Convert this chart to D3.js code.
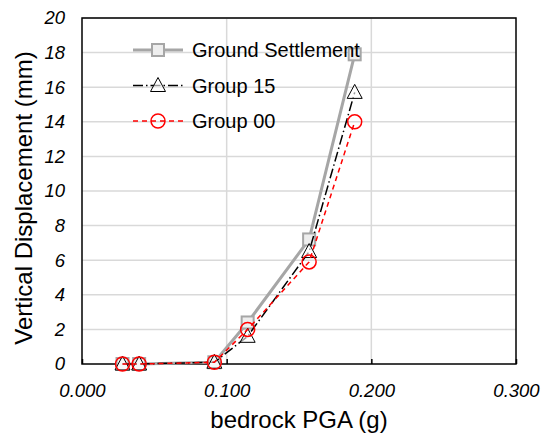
<!DOCTYPE html>
<html>
<head>
<meta charset="utf-8">
<script src="https://cdn.jsdelivr.net/npm/d3@7"></script>
<style>
  body { margin: 0; background: #fff; }
  svg { display: block; font-family: "Liberation Sans", Arial, sans-serif; }
</style>
</head>
<body>
<div id="chart"></div>
<script>
const pga = [0.028, 0.0395, 0.0915, 0.1145, 0.157, 0.1885];
const groundSettlement = [0, 0, 0.1, 2.4, 7.2, 17.9];
const group15 = [0, 0, 0.1, 1.6, 6.5, 15.7];
const group00 = [0, 0, 0.1, 2.0, 5.9, 14.0];
const xTicks = [0, 0.1, 0.2, 0.3];
const yTicks = [0, 2, 4, 6, 8, 10, 12, 14, 16, 18, 20];

const W = 541, H = 436;
const margin = { top: 18, right: 25, bottom: 72, left: 82 };
const width = W - margin.left - margin.right;
const height = H - margin.top - margin.bottom;

const svg = d3.select("#chart").append("svg")
  .attr("width", W)
  .attr("height", H);

const g = svg.append("g")
  .attr("transform", `translate(${margin.left},${margin.top})`);

const x = d3.scaleLinear().domain([0, 0.3]).range([0, width]);
const y = d3.scaleLinear().domain([0, 20]).range([height, 0]);

// grid
g.selectAll("line.hgrid")
  .data(yTicks.slice(1))
  .enter().append("line")
  .attr("x1", 0).attr("x2", width)
  .attr("y1", d => y(d)).attr("y2", d => y(d))
  .attr("stroke", "#d9d9d9").attr("stroke-width", 1.5);

g.selectAll("line.vgrid")
  .data(xTicks.slice(1, -1))
  .enter().append("line")
  .attr("x1", d => x(d)).attr("x2", d => x(d))
  .attr("y1", 0).attr("y2", height)
  .attr("stroke", "#d9d9d9").attr("stroke-width", 1.5);

// axes
const xAxis = g.append("g")
  .attr("transform", `translate(0,${height})`)
  .call(d3.axisBottom(x).tickValues(xTicks).tickFormat(d3.format(".3f")).tickSizeInner(-5).tickSizeOuter(0).tickPadding(20));
xAxis.select(".domain").remove();
xAxis.selectAll("line").attr("stroke", "#000").attr("stroke-width", 1.5);
xAxis.selectAll("text")
  .style("font-size", "18.5px").style("font-style", "italic").attr("fill", "#000")
  .attr("dy", "0.71em");

const yAxis = g.append("g")
  .call(d3.axisLeft(y).tickValues(yTicks).tickSize(0).tickPadding(17));
yAxis.select(".domain").remove();
yAxis.selectAll("text")
  .style("font-size", "18.5px").style("font-style", "italic").attr("fill", "#000");

// plot frame
g.append("rect")
  .attr("x", 0).attr("y", 0)
  .attr("width", width).attr("height", height)
  .attr("fill", "none").attr("stroke", "#000").attr("stroke-width", 1.5);

// series
const series = [
  { name: "Ground Settlement", values: groundSettlement, stroke: "#a6a6a6", width: 3, dash: null, marker: "square" },
  { name: "Group 15", values: group15, stroke: "#000", width: 1.5, dash: "10,3,1.5,3", marker: "triangle" },
  { name: "Group 00", values: group00, stroke: "#ff0000", width: 1.5, dash: "5,4", marker: "circle" }
];

const line = d3.line().x(d => x(d[0])).y(d => y(d[1]));

function drawMarker(sel, type) {
  if (type === "square") {
    sel.append("rect")
      .attr("x", -6).attr("y", -6).attr("width", 12).attr("height", 12)
      .attr("fill", "#eeeeee").attr("stroke", "#a6a6a6").attr("stroke-width", 2);
  } else if (type === "triangle") {
    sel.append("path")
      .attr("d", "M0,-8 L7.5,6 L-7.5,6 Z")
      .attr("fill", "#fff").attr("fill-opacity", 0.6)
      .attr("stroke", "#000").attr("stroke-width", 1);
  } else {
    sel.append("circle")
      .attr("r", 7)
      .attr("fill", "none")
      .attr("stroke", "#ff0000").attr("stroke-width", 1.5);
  }
}

series.forEach(s => {
  const pts = pga.map((p, i) => [p, s.values[i]]);
  g.append("path")
    .datum(pts)
    .attr("d", line)
    .attr("fill", "none")
    .attr("stroke", s.stroke)
    .attr("stroke-width", s.width)
    .attr("stroke-dasharray", s.dash);
  pts.forEach(p => {
    const m = g.append("g").attr("transform", `translate(${x(p[0])},${y(p[1])})`);
    drawMarker(m, s.marker);
  });
});

// legend
const legend = svg.append("g").attr("transform", "translate(133,50)");
series.forEach((s, i) => {
  const row = legend.append("g").attr("transform", `translate(0,${i * 35.5})`);
  row.append("line")
    .attr("x1", 0).attr("x2", 50).attr("y1", 0).attr("y2", 0)
    .attr("stroke", s.stroke).attr("stroke-width", s.width)
    .attr("stroke-dasharray", s.dash);
  const m = row.append("g").attr("transform", "translate(25,0)");
  drawMarker(m, s.marker);
  row.append("text")
    .attr("x", 59).attr("y", 0).attr("dy", "0.35em")
    .style("font-size", "20px").attr("fill", "#000")
    .text(s.name);
});

// axis titles
svg.append("text")
  .attr("x", margin.left + x(0.15)).attr("y", 428)
  .attr("text-anchor", "middle")
  .style("font-size", "24px").attr("fill", "#000")
  .text("bedrock PGA (g)");

svg.append("text")
  .attr("transform", `translate(32,${margin.top + height / 2 + 7}) rotate(-90)`)
  .attr("text-anchor", "middle")
  .style("font-size", "24px").attr("fill", "#000")
  .text("Vertical Displacement (mm)");
</script>
</body>
</html>
